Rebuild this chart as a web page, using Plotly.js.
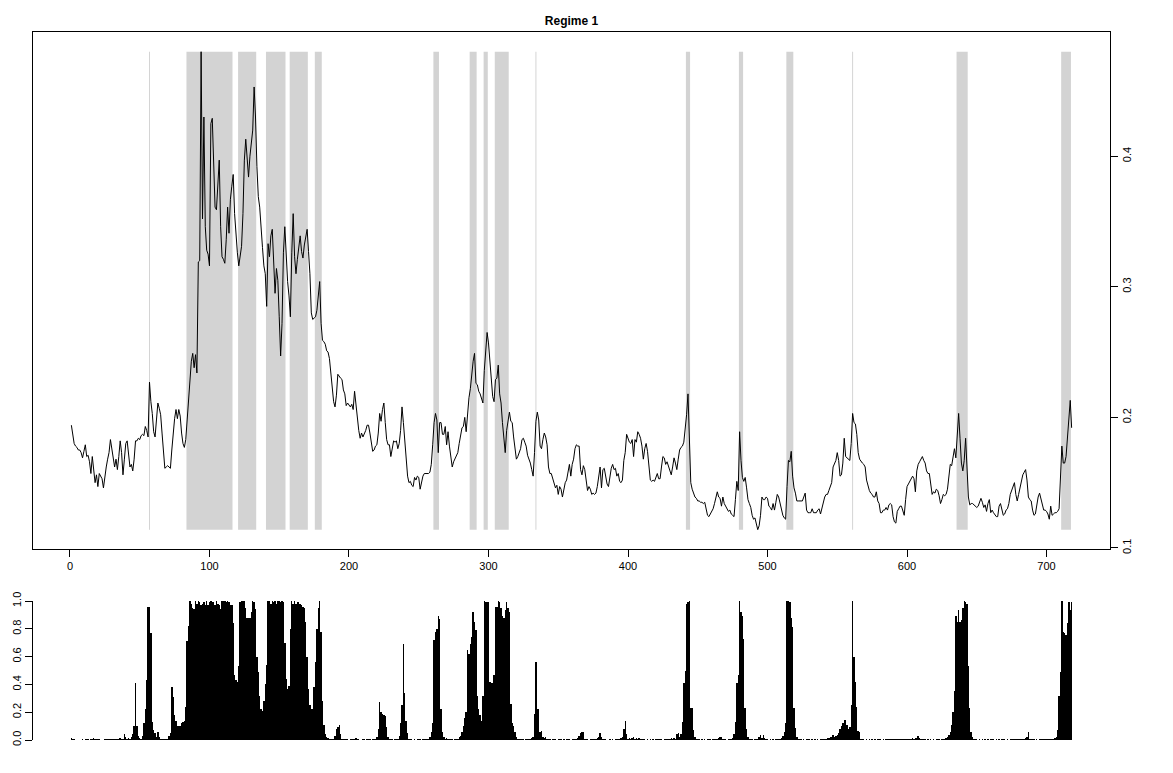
<!DOCTYPE html>
<html>
<head>
<meta charset="utf-8">
<script src="https://cdn.plot.ly/plotly-3.0.1.min.js"></script>
<style>
html,body{margin:0;padding:0;background:#fff;}
#chart{width:1173px;height:773px;}
</style>
</head>
<body>
<div id="chart"></div>
<script>
// Regime 1 series (smoothed value per time step)
var seriesValues = [
0.194,0.187,0.180,0.178,0.177,0.175,0.175,0.173,0.169,0.174,
0.179,0.170,0.171,0.166,0.157,0.170,0.162,0.150,0.156,0.147,
0.157,0.155,0.153,0.146,0.157,0.162,0.168,0.173,0.183,0.176,
0.168,0.162,0.168,0.160,0.170,0.182,0.173,0.156,0.168,0.180,
0.182,0.174,0.162,0.164,0.159,0.168,0.182,0.182,0.184,0.183,
0.186,0.187,0.186,0.193,0.190,0.185,0.227,0.212,0.203,0.189,
0.185,0.198,0.211,0.207,0.202,0.188,0.170,0.161,0.162,0.163,
0.162,0.161,0.175,0.190,0.199,0.206,0.199,0.206,0.201,0.188,
0.180,0.177,0.183,0.198,0.216,0.234,0.243,0.249,0.238,0.248,
0.234,0.319,0.320,0.480,0.352,0.430,0.346,0.328,0.325,0.316,
0.425,0.429,0.400,0.361,0.359,0.382,0.397,0.346,0.323,0.321,
0.318,0.336,0.361,0.341,0.367,0.377,0.386,0.356,0.336,0.326,
0.316,0.323,0.331,0.356,0.397,0.413,0.400,0.384,0.400,0.410,
0.420,0.453,0.430,0.392,0.369,0.361,0.341,0.330,0.316,0.310,
0.285,0.333,0.323,0.339,0.344,0.323,0.295,0.314,0.305,0.277,
0.247,0.272,0.326,0.346,0.323,0.304,0.293,0.277,0.326,0.356,
0.323,0.310,0.321,0.330,0.339,0.327,0.322,0.332,0.339,0.344,
0.327,0.310,0.280,0.275,0.276,0.277,0.282,0.295,0.304,0.272,
0.259,0.258,0.256,0.251,0.250,0.245,0.234,0.218,0.212,0.208,
0.217,0.233,0.231,0.230,0.229,0.221,0.218,0.209,0.211,0.209,
0.208,0.210,0.206,0.220,0.208,0.198,0.190,0.184,0.188,0.185,
0.187,0.190,0.194,0.194,0.188,0.179,0.174,0.175,0.178,0.179,
0.188,0.203,0.197,0.206,0.211,0.196,0.183,0.179,0.179,0.170,
0.178,0.182,0.181,0.182,0.176,0.180,0.190,0.208,0.196,0.183,
0.173,0.155,0.150,0.151,0.148,0.147,0.154,0.152,0.155,0.154,
0.145,0.151,0.155,0.157,0.157,0.157,0.157,0.158,0.164,0.179,
0.196,0.203,0.198,0.173,0.196,0.196,0.187,0.187,0.193,0.179,
0.189,0.178,0.171,0.162,0.166,0.168,0.171,0.173,0.180,0.188,
0.192,0.193,0.200,0.189,0.203,0.215,0.222,0.236,0.243,0.249,
0.226,0.225,0.220,0.218,0.215,0.211,0.236,0.252,0.265,0.257,
0.243,0.224,0.216,0.212,0.229,0.230,0.240,0.218,0.211,0.196,
0.183,0.173,0.190,0.196,0.204,0.197,0.196,0.185,0.176,0.168,
0.170,0.174,0.176,0.183,0.184,0.181,0.178,0.171,0.168,0.165,
0.160,0.155,0.173,0.197,0.204,0.198,0.178,0.176,0.183,0.188,
0.185,0.179,0.162,0.157,0.157,0.153,0.151,0.146,0.148,0.141,
0.147,0.145,0.139,0.145,0.150,0.152,0.157,0.164,0.155,0.164,
0.168,0.176,0.179,0.178,0.178,0.160,0.156,0.163,0.160,0.150,
0.144,0.147,0.145,0.141,0.142,0.141,0.142,0.147,0.157,0.162,
0.146,0.160,0.161,0.155,0.149,0.147,0.156,0.161,0.164,0.160,
0.161,0.155,0.157,0.151,0.150,0.152,0.167,0.173,0.187,0.184,
0.181,0.180,0.183,0.170,0.183,0.181,0.189,0.187,0.184,0.178,
0.168,0.176,0.180,0.174,0.159,0.152,0.151,0.152,0.151,0.155,
0.157,0.153,0.153,0.162,0.170,0.169,0.164,0.166,0.162,0.159,
0.156,0.162,0.169,0.165,0.160,0.168,0.175,0.177,0.178,0.181,
0.190,0.202,0.218,0.175,0.150,0.145,0.141,0.139,0.138,0.136,
0.136,0.135,0.135,0.134,0.135,0.131,0.125,0.124,0.126,0.128,
0.130,0.134,0.138,0.143,0.139,0.138,0.132,0.139,0.134,0.132,
0.130,0.128,0.129,0.126,0.125,0.124,0.137,0.151,0.144,0.189,
0.167,0.154,0.151,0.154,0.146,0.137,0.134,0.131,0.125,0.122,
0.123,0.118,0.114,0.117,0.125,0.139,0.137,0.137,0.139,0.138,
0.132,0.131,0.129,0.134,0.129,0.135,0.141,0.139,0.134,0.129,
0.125,0.123,0.122,0.147,0.167,0.166,0.174,0.155,0.146,0.142,
0.136,0.136,0.136,0.136,0.136,0.139,0.142,0.129,0.127,0.127,
0.127,0.130,0.127,0.127,0.127,0.129,0.130,0.126,0.130,0.136,
0.139,0.141,0.141,0.144,0.148,0.150,0.162,0.164,0.167,0.173,
0.167,0.155,0.156,0.165,0.184,0.170,0.169,0.168,0.167,0.180,
0.203,0.196,0.195,0.187,0.173,0.168,0.166,0.165,0.164,0.162,
0.152,0.147,0.144,0.142,0.141,0.139,0.139,0.143,0.136,0.134,
0.127,0.127,0.129,0.129,0.131,0.129,0.133,0.134,0.133,0.124,
0.120,0.119,0.128,0.130,0.132,0.132,0.129,0.125,0.137,0.147,
0.149,0.151,0.152,0.155,0.153,0.143,0.159,0.164,0.166,0.168,
0.170,0.167,0.165,0.159,0.157,0.157,0.150,0.141,0.143,0.142,
0.145,0.144,0.140,0.134,0.137,0.141,0.140,0.141,0.145,0.155,
0.164,0.163,0.170,0.176,0.169,0.192,0.203,0.184,0.165,0.159,
0.167,0.184,0.160,0.139,0.133,0.134,0.134,0.133,0.132,0.131,
0.132,0.135,0.138,0.135,0.131,0.133,0.128,0.134,0.137,0.127,
0.129,0.127,0.125,0.124,0.124,0.132,0.134,0.129,0.125,0.126,
0.129,0.130,0.134,0.141,0.144,0.147,0.150,0.141,0.136,0.141,
0.146,0.153,0.156,0.158,0.160,0.152,0.139,0.137,0.136,0.129,
0.125,0.126,0.134,0.139,0.142,0.137,0.132,0.129,0.129,0.128,
0.126,0.122,0.132,0.125,0.126,0.127,0.127,0.128,0.130,0.160,
0.178,0.165,0.165,0.170,0.183,0.194,0.213,0.192
];

// Probability of regime 1 per time step (bottom panel)
var regimeProb = [
0.012,0.010,0.004,0.003,0.003,0.002,0.002,0.003,0.004,0.003,
0.006,0.008,0.004,0.003,0.005,0.004,0.012,0.006,0.005,0.004,
0.004,0.003,0.002,0.002,0.004,0.005,0.004,0.005,0.004,0.005,
0.004,0.006,0.008,0.010,0.006,0.012,0.008,0.010,0.040,0.020,
0.010,0.015,0.010,0.020,0.040,0.100,0.410,0.100,0.030,0.015,
0.010,0.030,0.120,0.220,0.430,0.955,0.955,0.770,0.130,0.070,
0.050,0.020,0.055,0.020,0.010,0.010,0.008,0.005,0.006,0.010,
0.030,0.050,0.380,0.310,0.180,0.140,0.100,0.100,0.100,0.120,
0.130,0.140,0.240,0.710,0.820,1.000,0.980,0.950,0.940,1.000,
0.980,1.000,0.995,0.970,0.980,0.995,0.970,1.000,0.970,0.995,
1.000,0.995,0.990,0.970,1.000,0.980,0.970,0.940,1.000,1.000,
1.000,0.995,1.000,0.995,0.970,0.970,0.840,0.470,0.430,0.420,
0.530,0.990,1.000,1.000,1.000,0.950,0.875,0.875,0.880,0.920,
1.000,0.995,0.940,0.600,0.490,0.320,0.220,0.210,0.280,0.400,
0.540,1.000,1.000,0.980,1.000,0.990,1.000,0.980,1.000,1.000,
0.990,1.000,0.990,0.700,0.440,0.370,0.390,0.800,1.000,0.980,
1.000,0.980,0.995,0.995,0.980,0.970,0.960,0.950,0.850,0.600,
0.370,0.250,0.220,0.220,0.380,0.560,0.800,0.950,1.000,0.780,
0.280,0.110,0.040,0.020,0.015,0.010,0.008,0.006,0.010,0.030,
0.080,0.090,0.110,0.040,0.010,0.006,0.004,0.005,0.004,0.003,
0.004,0.005,0.006,0.008,0.012,0.006,0.004,0.003,0.003,0.004,
0.004,0.003,0.004,0.005,0.004,0.003,0.004,0.006,0.008,0.020,
0.080,0.270,0.200,0.190,0.180,0.170,0.090,0.020,0.008,0.005,
0.004,0.003,0.004,0.005,0.008,0.030,0.120,0.250,0.690,0.340,
0.140,0.050,0.010,0.005,0.004,0.003,0.004,0.003,0.004,0.005,
0.004,0.003,0.004,0.005,0.006,0.008,0.010,0.020,0.060,0.120,
0.720,0.775,0.800,0.890,0.870,0.220,0.060,0.020,0.008,0.012,
0.006,0.004,0.005,0.004,0.003,0.004,0.006,0.010,0.020,0.030,
0.060,0.100,0.160,0.200,0.650,0.620,0.690,0.740,0.920,0.850,
0.790,0.320,0.220,0.180,0.140,0.320,1.000,0.995,0.990,0.990,
0.420,0.410,0.410,0.470,0.960,0.960,1.000,0.995,0.950,0.890,
0.875,0.935,0.990,0.950,0.920,0.260,0.120,0.100,0.060,0.020,
0.010,0.006,0.005,0.004,0.004,0.003,0.004,0.005,0.006,0.008,
0.012,0.020,0.190,0.560,0.220,0.220,0.060,0.065,0.020,0.015,
0.020,0.008,0.005,0.004,0.003,0.004,0.005,0.004,0.003,0.004,
0.005,0.004,0.003,0.004,0.003,0.004,0.005,0.004,0.003,0.004,
0.005,0.006,0.008,0.015,0.030,0.050,0.055,0.060,0.010,0.005,
0.004,0.003,0.004,0.005,0.004,0.006,0.008,0.012,0.020,0.050,
0.020,0.008,0.005,0.004,0.003,0.003,0.004,0.003,0.004,0.003,
0.004,0.005,0.006,0.008,0.012,0.020,0.080,0.140,0.040,0.010,
0.015,0.010,0.012,0.020,0.010,0.015,0.010,0.012,0.008,0.006,
0.005,0.004,0.003,0.004,0.003,0.004,0.003,0.004,0.003,0.004,
0.005,0.004,0.006,0.004,0.003,0.004,0.005,0.006,0.008,0.010,
0.012,0.010,0.015,0.010,0.040,0.050,0.020,0.040,0.130,0.410,
0.500,0.980,0.995,1.000,0.230,0.230,0.070,0.020,0.008,0.005,
0.004,0.003,0.004,0.003,0.004,0.003,0.004,0.005,0.004,0.003,
0.004,0.005,0.006,0.008,0.012,0.020,0.020,0.010,0.006,0.004,
0.003,0.004,0.005,0.008,0.015,0.040,0.130,0.410,0.470,1.000,
0.920,0.890,0.730,0.230,0.080,0.020,0.008,0.005,0.004,0.003,
0.004,0.006,0.010,0.020,0.035,0.015,0.035,0.012,0.006,0.004,
0.003,0.004,0.003,0.004,0.003,0.004,0.005,0.006,0.008,0.015,
0.030,0.060,0.120,1.000,1.000,0.995,0.875,0.815,0.230,0.085,
0.020,0.008,0.005,0.004,0.003,0.004,0.003,0.004,0.005,0.004,
0.003,0.004,0.003,0.004,0.003,0.004,0.003,0.004,0.005,0.006,
0.008,0.010,0.012,0.015,0.020,0.025,0.035,0.020,0.030,0.035,
0.050,0.080,0.100,0.120,0.145,0.145,0.110,0.080,0.090,0.250,
1.000,0.600,0.420,0.240,0.065,0.060,0.010,0.005,0.004,0.003,
0.004,0.003,0.004,0.003,0.004,0.003,0.004,0.003,0.004,0.005,
0.004,0.003,0.004,0.003,0.004,0.005,0.006,0.008,0.006,0.005,
0.006,0.008,0.006,0.005,0.004,0.006,0.008,0.010,0.008,0.008,
0.010,0.008,0.010,0.012,0.010,0.012,0.015,0.030,0.012,0.008,
0.006,0.005,0.004,0.003,0.004,0.003,0.004,0.003,0.004,0.003,
0.004,0.005,0.004,0.003,0.004,0.006,0.008,0.012,0.024,0.036,
0.060,0.110,0.200,0.350,0.890,0.850,0.935,0.850,0.860,0.950,
1.000,0.995,0.980,0.530,0.230,0.060,0.020,0.008,0.005,0.004,
0.003,0.004,0.003,0.004,0.003,0.004,0.003,0.004,0.003,0.004,
0.005,0.004,0.003,0.004,0.003,0.004,0.003,0.004,0.005,0.004,
0.003,0.004,0.003,0.004,0.006,0.008,0.006,0.005,0.004,0.006,
0.005,0.006,0.008,0.010,0.012,0.020,0.060,0.010,0.006,0.005,
0.004,0.003,0.004,0.003,0.004,0.005,0.004,0.006,0.008,0.006,
0.005,0.006,0.008,0.006,0.010,0.012,0.024,0.070,0.320,0.490,
1.000,0.780,0.770,0.755,0.840,0.995,0.935,0.995
];

// Shaded regime periods (first and last time step of each)
var shadeStart = [57, 84, 121, 141, 158, 176, 261, 287, 297, 305, 334, 442, 480, 514, 561, 636, 711];
var shadeEnd   = [57, 116, 133, 154, 170, 180, 264, 291, 299, 314, 334, 444, 482, 518, 561, 643, 717];

var xTicks = [0, 100, 200, 300, 400, 500, 600, 700];
var yTicksTop = [0.1, 0.2, 0.3, 0.4];
var yTickTextTop = ["0.1", "0.2", "0.3", "0.4"];
var yTicksBottom = [0, 0.2, 0.4, 0.6, 0.8, 1.0];
var yTickTextBottom = ["0.0", "0.2", "0.4", "0.6", "0.8", "1.0"];
var chartTitle = "Regime 1";

var timeIdx = seriesValues.map(function (_, i) { return i + 1; });
var probIdx = regimeProb.map(function (_, i) { return i + 1; });
var vMin = Math.min.apply(null, seriesValues);
var vMax = Math.max.apply(null, seriesValues);

var shapes = shadeStart.map(function (s, k) {
  var thin = (shadeEnd[k] === s);
  return {
    type: 'rect', xref: 'x', yref: 'y', layer: 'below',
    x0: s - (thin ? 0.35 : 0.5), x1: shadeEnd[k] + (thin ? 0.35 : 0.5),
    y0: vMin, y1: vMax,
    fillcolor: '#D3D3D3', line: {width: 0}
  };
});

var W = 1173, H = 773;
var xDom = [33 / W, 1110 / W];
var fontFam = 'Liberation Sans, Arial, sans-serif';

var traces = [
  {
    type: 'scatter', mode: 'lines', x: timeIdx, y: seriesValues,
    xaxis: 'x', yaxis: 'y',
    line: {color: '#000000', width: 1}, hoverinfo: 'skip', showlegend: false
  },
  {
    type: 'bar', x: probIdx, y: regimeProb, xaxis: 'x2', yaxis: 'y2',
    width: 1, marker: {color: '#000000', line: {width: 0}},
    hoverinfo: 'skip', showlegend: false
  }
];

var layout = {
  width: W, height: H,
  margin: {l: 0, r: 0, t: 0, b: 0, pad: 0},
  paper_bgcolor: '#ffffff', plot_bgcolor: 'rgba(0,0,0,0)',
  font: {family: fontFam, size: 11, color: '#000000'},
  title: {
    text: '<b>' + chartTitle + '</b>',
    x: 571.5 / W, xanchor: 'center', xref: 'paper',
    y: 1 - 21 / H, yanchor: 'middle', yref: 'paper',
    font: {family: fontFam, size: 12, color: '#000000'}
  },
  showlegend: false,
  bargap: 0,
  xaxis: {
    domain: xDom, range: [-26.5, 745.5], anchor: 'y',
    tickmode: 'array', tickvals: xTicks, ticktext: xTicks.map(String),
    ticks: 'outside', ticklen: 7, tickwidth: 1, tickcolor: '#000',
    showline: true, mirror: true, linecolor: '#000', linewidth: 1,
    showgrid: false, zeroline: false,
    tickfont: {family: fontFam, size: 11, color: '#000'}
  },
  yaxis: {
    domain: [1 - 549 / H, 1 - 32 / H], range: [0.0992, 0.4951], anchor: 'x',
    side: 'right',
    tickmode: 'array', tickvals: yTicksTop, ticktext: yTickTextTop, tickangle: -90,
    ticks: 'outside', ticklen: 7, tickwidth: 1, tickcolor: '#000',
    showline: true, mirror: true, linecolor: '#000', linewidth: 1,
    showgrid: false, zeroline: false,
    tickfont: {family: fontFam, size: 11, color: '#000'}
  },
  xaxis2: {
    domain: xDom, range: [-26.5, 745.5], anchor: 'y2',
    visible: false, showgrid: false, zeroline: false
  },
  yaxis2: {
    domain: [1 - 740 / H, 1 - 601 / H], range: [0, 1], anchor: 'x2',
    side: 'left',
    tickmode: 'array', tickvals: yTicksBottom, ticktext: yTickTextBottom, tickangle: -90,
    ticks: 'outside', ticklen: 7, tickwidth: 1, tickcolor: '#000',
    showline: true, linecolor: '#000', linewidth: 1,
    showgrid: false, zeroline: false,
    tickfont: {family: fontFam, size: 11, color: '#000'}
  },
  shapes: shapes
};

Plotly.newPlot('chart', traces, layout, {displayModeBar: false, staticPlot: true});
</script>
</body>
</html>
